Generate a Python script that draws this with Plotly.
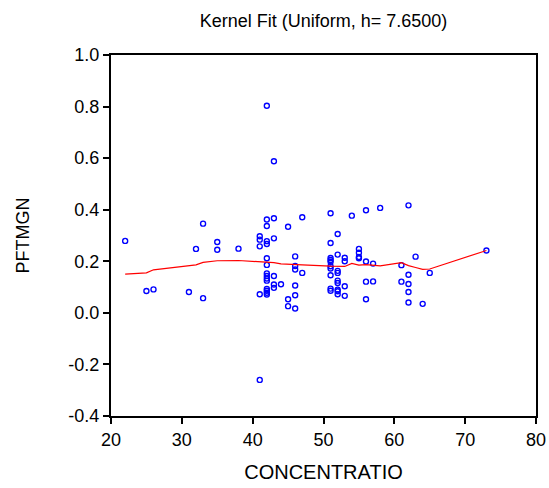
import plotly.graph_objects as go

conc = [22, 25, 26, 31, 33, 32, 33, 35, 35, 38,
        42, 43, 42, 47, 45, 51, 41, 41, 42, 42,
        43, 41, 52, 51, 52, 42, 46, 42, 46, 46,
        47, 51, 51, 51, 51, 51, 52, 52, 51, 52,
        52, 42, 42, 42, 42, 43, 43, 43, 44, 46,
        42, 42, 42, 42, 41, 52, 52, 51, 51, 52,
        46, 45, 45, 46, 54, 56, 58, 62, 55, 55,
        55, 55, 53, 53, 56, 57, 63, 61, 62, 65,
        53, 56, 57, 61, 62, 53, 62, 56, 62, 64,
        42, 43, 41, 73]
pftmgn = [0.279, 0.085, 0.091, 0.081, 0.346, 0.248, 0.057, 0.275, 0.245, 0.249,
          0.362, 0.367, 0.337, 0.371, 0.334, 0.386, 0.297, 0.284, 0.278, 0.267,
          0.289, 0.258, 0.306, 0.271, 0.226, 0.212, 0.219, 0.186, 0.182, 0.168,
          0.155, 0.213, 0.205, 0.198, 0.181, 0.172, 0.163, 0.155, 0.146, 0.125,
          0.116, 0.153, 0.143, 0.133, 0.125, 0.143, 0.110, 0.097, 0.111, 0.106,
          0.093, 0.086, 0.078, 0.071, 0.072, 0.090, 0.084, 0.094, 0.086, 0.072,
          0.068, 0.053, 0.026, 0.017, 0.377, 0.398, 0.407, 0.417, 0.248, 0.233,
          0.217, 0.212, 0.214, 0.200, 0.199, 0.191, 0.218, 0.185, 0.148, 0.155,
          0.103, 0.121, 0.122, 0.121, 0.112, 0.066, 0.081, 0.053, 0.040, 0.035,
          0.803, 0.588, -0.26, 0.242]

fit_x = [22, 25, 26, 31, 32, 33, 35, 38, 41, 42, 43, 44, 45, 46, 47, 51, 52, 53,
         54, 55, 56, 57, 58, 61, 62, 63, 64, 65, 73]
fit_y = [0.150, 0.155, 0.167, 0.183, 0.186, 0.196, 0.202, 0.203, 0.198, 0.196, 0.195,
         0.190, 0.188, 0.187, 0.186, 0.181, 0.181, 0.180, 0.192, 0.185, 0.187, 0.185,
         0.182, 0.195, 0.183, 0.176, 0.169, 0.170, 0.242]

y_ticks = [1.0, 0.8, 0.6, 0.4, 0.2, 0.0, -0.2, -0.4]
y_labels = ["1.0", "0.8", "0.6", "0.4", "0.2", "0.0", "-0.2", "-0.4"]
x_ticks = [20, 30, 40, 50, 60, 70, 80]
x_labels = ["20", "30", "40", "50", "60", "70", "80"]

fig = go.Figure()
fig.add_trace(go.Scatter(
    x=conc, y=pftmgn, mode="markers",
    marker=dict(symbol="circle-open", size=5, color="#0000ff", line=dict(width=1.4, color="#0000ff")),
    showlegend=False, hoverinfo="x+y"))
fig.add_trace(go.Scatter(
    x=fit_x, y=fit_y, mode="lines",
    line=dict(color="#ff0000", width=1.2), showlegend=False))

font_family = "Liberation Sans, Arial, sans-serif"
fig.update_layout(
    width=549, height=488,
    margin=dict(l=111, r=13, t=55, b=72, autoexpand=False),
    plot_bgcolor="white", paper_bgcolor="white",
    font=dict(family=font_family, size=18, color="black"),
    title=dict(text="Kernel Fit (Uniform, h= 7.6500)", x=0.5, xref="paper", xanchor="center",
               y=0.958, yanchor="middle", font=dict(size=18, family=font_family)),
)
fig.update_xaxes(
    range=[20, 80], tickvals=x_ticks, ticktext=x_labels,
    showgrid=False, zeroline=False, showline=True, linecolor="black", linewidth=2,
    mirror=True, ticks="outside", ticklen=6, tickwidth=1.5, tickcolor="black",
    tickfont=dict(size=18),
    title=dict(text="CONCENTRATIO", font=dict(size=20), standoff=16),
)
fig.update_yaxes(
    range=[-0.4, 1.0], tickvals=y_ticks, ticktext=y_labels,
    showgrid=False, zeroline=False, showline=True, linecolor="black", linewidth=2,
    mirror=True, ticks="outside", ticklen=6, tickwidth=1.5, tickcolor="black",
    tickfont=dict(size=18),
    title=dict(text="PFTMGN", font=dict(size=18), standoff=34),
)

fig.write_html("out.html")
